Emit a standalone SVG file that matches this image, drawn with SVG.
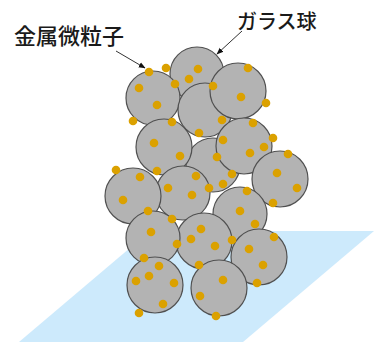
<svg xmlns="http://www.w3.org/2000/svg" width="374" height="342" viewBox="0 0 374 342">
  <style>
    .sphere { fill: #b3b3b3; stroke: #505050; stroke-width: 1.2; }
    .dot { fill: #dba100; }
    .label { font-family: "Noto Sans CJK JP", "Noto Sans", sans-serif; font-weight: 500; fill: #1a1a1a; }
    .lead { stroke: #333; stroke-width: 1; fill: none; }
  </style>
  <defs>
    <marker id="arrow" viewBox="0 0 10 10" refX="9" refY="5" markerWidth="7" markerHeight="7" orient="auto" markerUnits="userSpaceOnUse">
      <path d="M0,1 L10,5 L0,9 Z" fill="#111"/>
    </marker>
  </defs>

  <!-- substrate plate -->
  <polygon id="substrate" points="150,231 374,231 243,342 19,342" fill="#cdeafc"/>

  <!-- glass spheres, back to front -->
  <g id="spheres">
    <circle id="sphere-f" class="sphere" cx="213" cy="165" r="27"/>
    <circle id="sphere-b" class="sphere" cx="197" cy="74" r="27"/>
    <circle id="sphere-a" class="sphere" cx="153" cy="98" r="27"/>
    <circle id="sphere-d" class="sphere" cx="205" cy="110" r="27"/>
    <circle id="sphere-c" class="sphere" cx="238" cy="91" r="28"/>
    <circle id="sphere-e" class="sphere" cx="164" cy="147" r="28"/>
    <circle id="sphere-g" class="sphere" cx="244" cy="146" r="28"/>
    <circle id="sphere-h" class="sphere" cx="280" cy="179" r="28"/>
    <circle id="sphere-j" class="sphere" cx="183" cy="193" r="27"/>
    <circle id="sphere-i" class="sphere" cx="133" cy="196" r="28"/>
    <circle id="sphere-k" class="sphere" cx="240" cy="214" r="27"/>
    <circle id="sphere-m" class="sphere" cx="204" cy="241" r="28"/>
    <circle id="sphere-l" class="sphere" cx="153" cy="238" r="27"/>
    <circle id="sphere-n" class="sphere" cx="259" cy="257" r="28"/>
    <circle id="sphere-p" class="sphere" cx="219" cy="288" r="28"/>
    <circle id="sphere-o" class="sphere" cx="155" cy="285" r="28"/>
  </g>

  <!-- metal particles -->
  <g id="particles">
    <circle class="dot" cx="149" cy="72" r="4.3"/>
    <circle class="dot" cx="166" cy="68" r="4.3"/>
    <circle class="dot" cx="198" cy="69" r="4.3"/>
    <circle class="dot" cx="189" cy="79" r="4.3"/>
    <circle class="dot" cx="175" cy="84" r="4.3"/>
    <circle class="dot" cx="139" cy="88" r="4.3"/>
    <circle class="dot" cx="157" cy="105" r="4.3"/>
    <circle class="dot" cx="213" cy="86" r="4.3"/>
    <circle class="dot" cx="248" cy="68" r="4.3"/>
    <circle class="dot" cx="241" cy="97" r="4.3"/>
    <circle class="dot" cx="266" cy="103" r="4.3"/>
    <circle class="dot" cx="133" cy="121" r="4.3"/>
    <circle class="dot" cx="172" cy="122" r="4.3"/>
    <circle class="dot" cx="222" cy="120" r="4.3"/>
    <circle class="dot" cx="253" cy="123" r="4.3"/>
    <circle class="dot" cx="273" cy="138" r="4.3"/>
    <circle class="dot" cx="199" cy="133" r="4.3"/>
    <circle class="dot" cx="223" cy="140" r="4.3"/>
    <circle class="dot" cx="154" cy="143" r="4.3"/>
    <circle class="dot" cx="180" cy="156" r="4.3"/>
    <circle class="dot" cx="217" cy="157" r="4.3"/>
    <circle class="dot" cx="264" cy="147" r="4.3"/>
    <circle class="dot" cx="250" cy="153" r="4.3"/>
    <circle class="dot" cx="288" cy="154" r="4.3"/>
    <circle class="dot" cx="277" cy="173" r="4.3"/>
    <circle class="dot" cx="297" cy="188" r="4.3"/>
    <circle class="dot" cx="116" cy="170" r="4.3"/>
    <circle class="dot" cx="140" cy="177" r="4.3"/>
    <circle class="dot" cx="157" cy="171" r="4.3"/>
    <circle class="dot" cx="196" cy="176" r="4.3"/>
    <circle class="dot" cx="168" cy="188" r="4.3"/>
    <circle class="dot" cx="209" cy="188" r="4.3"/>
    <circle class="dot" cx="232" cy="174" r="4.3"/>
    <circle class="dot" cx="223" cy="184" r="4.3"/>
    <circle class="dot" cx="247" cy="191" r="4.3"/>
    <circle class="dot" cx="123" cy="200" r="4.3"/>
    <circle class="dot" cx="192" cy="195" r="4.3"/>
    <circle class="dot" cx="148" cy="211" r="4.3"/>
    <circle class="dot" cx="273" cy="203" r="4.3"/>
    <circle class="dot" cx="240" cy="211" r="4.3"/>
    <circle class="dot" cx="172" cy="219" r="4.3"/>
    <circle class="dot" cx="201" cy="229" r="4.3"/>
    <circle class="dot" cx="191" cy="239" r="4.3"/>
    <circle class="dot" cx="151" cy="232" r="4.3"/>
    <circle class="dot" cx="255" cy="224" r="4.3"/>
    <circle class="dot" cx="177" cy="244" r="4.3"/>
    <circle class="dot" cx="215" cy="246" r="4.3"/>
    <circle class="dot" cx="232" cy="240" r="4.3"/>
    <circle class="dot" cx="274" cy="237" r="4.3"/>
    <circle class="dot" cx="249" cy="249" r="4.3"/>
    <circle class="dot" cx="263" cy="265" r="4.3"/>
    <circle class="dot" cx="144" cy="258" r="4.3"/>
    <circle class="dot" cx="159" cy="266" r="4.3"/>
    <circle class="dot" cx="149" cy="276" r="4.3"/>
    <circle class="dot" cx="136" cy="281" r="4.3"/>
    <circle class="dot" cx="174" cy="283" r="4.3"/>
    <circle class="dot" cx="199" cy="265" r="4.3"/>
    <circle class="dot" cx="223" cy="280" r="4.3"/>
    <circle class="dot" cx="200" cy="296" r="4.3"/>
    <circle class="dot" cx="163" cy="304" r="4.3"/>
    <circle class="dot" cx="257" cy="283" r="4.3"/>
    <circle class="dot" cx="139" cy="313" r="4.3"/>
    <circle class="dot" cx="216" cy="316" r="4.3"/>
  </g>

  <!-- leader lines -->
  <g id="connectors">
    <line class="lead" x1="116" y1="51" x2="145" y2="68" marker-end="url(#arrow)"/>
    <line class="lead" x1="242" y1="31" x2="217" y2="54" marker-end="url(#arrow)"/>
  </g>

  <!-- labels -->
  <g id="label-metal">
    <text class="label" x="14" y="44" font-size="22">金属微粒子</text>
  </g>
  <g id="label-glass">
    <text class="label" x="237" y="29" font-size="20">ガラス球</text>
  </g>
</svg>
